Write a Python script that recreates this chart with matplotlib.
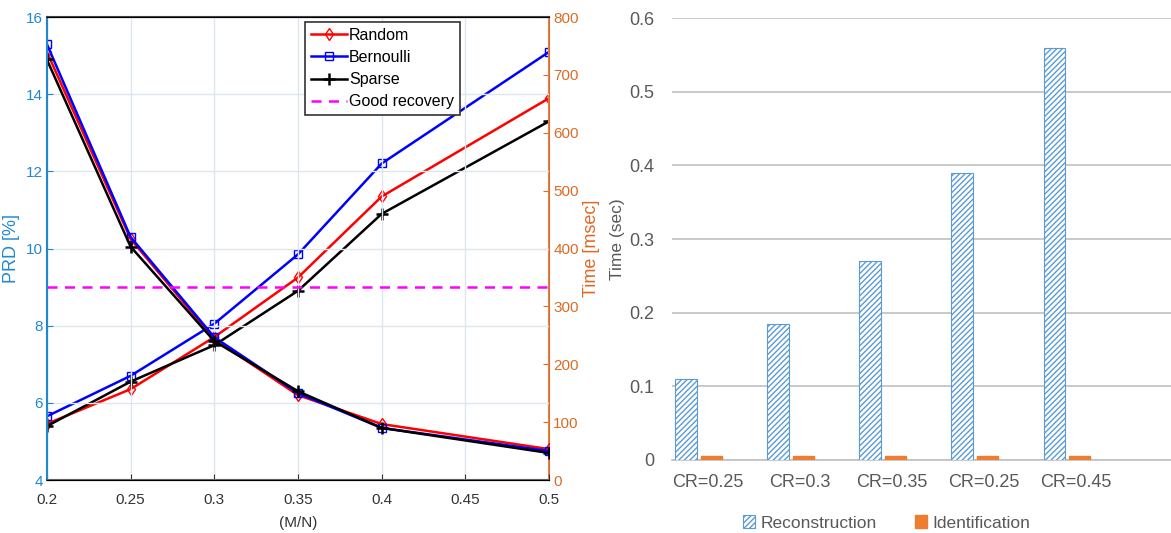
import numpy as np
import matplotlib
matplotlib.use("Agg")
from matplotlib import pyplot as plt

plt.rcParams['font.family'] = ['Liberation Sans', 'DejaVu Sans']

# left chart data
mn = [0.2, 0.25, 0.3, 0.35, 0.4, 0.45, 0.5]
mn_pts = [0.2, 0.25, 0.3, 0.35, 0.4, 0.5]

prd_random = [15.1, 10.25, 7.65, 6.2, 5.45, 4.8]
prd_bernoulli = [15.3, 10.3, 7.7, 6.25, 5.35, 4.75]
prd_sparse = [14.9, 10.05, 7.6, 6.3, 5.35, 4.7]

time_random = [97, 157, 247, 350, 490, 660]
time_bernoulli = [110, 180, 270, 390, 547, 740]
time_sparse = [93, 170, 233, 327, 460, 620]

good_recovery = 9

# right chart data
cr_labels = ['CR=0.25', 'CR=0.3', 'CR=0.35', 'CR=0.25', 'CR=0.45']
recon_time = [0.11, 0.185, 0.27, 0.39, 0.56]
ident_time = [0.005, 0.005, 0.005, 0.005, 0.005]

blue_ax = '#2188d0'
orange_ax = '#dd6a25'

fig = plt.figure(figsize=(11.71, 5.33), dpi=100)

#---------------- left chart ----------------
ax = fig.add_axes([0.040, 0.0994, 0.429, 0.8686])
ax2 = ax.twinx()

ax.plot(mn_pts, prd_random, color='red', marker='d', mfc='none', ms=6, lw=1.8, label='Random')
ax.plot(mn_pts, prd_bernoulli, color='blue', marker='s', mfc='none', ms=6, lw=1.8, label='Bernoulli')
ax.plot(mn_pts, prd_sparse, color='black', marker='+', ms=8, mew=1.8, lw=1.8, label='Sparse')
ax.axhline(good_recovery, color='magenta', ls=(0, (4, 3)), lw=1.8, label='Good recovery')

ax2.plot(mn_pts, time_random, color='red', marker='d', mfc='none', ms=6, lw=1.8)
ax2.plot(mn_pts, time_bernoulli, color='blue', marker='s', mfc='none', ms=6, lw=1.8)
ax2.plot(mn_pts, time_sparse, color='black', marker='+', ms=8, mew=1.8, lw=1.8)

ax.set_xlim(0.2, 0.5)
ax.set_ylim(4, 16)
ax2.set_ylim(0, 800)
ax.set_xticks(mn)
ax.set_xticklabels(['0.2', '0.25', '0.3', '0.35', '0.4', '0.45', '0.5'])
ax.set_yticks(range(4, 17, 2))
ax2.set_yticks(range(0, 801, 100))

ax.grid(True, color='#dde6ee', lw=1)
ax.tick_params(axis='y', colors=blue_ax, labelsize=11, direction='in', length=4, pad=3)
ax.tick_params(axis='x', colors='#333333', labelsize=11, direction='in', length=4, pad=9)
ax2.tick_params(axis='y', colors=orange_ax, labelsize=11, direction='in', length=4, pad=3)
ax.spines['left'].set_color(blue_ax)
ax2.spines['left'].set_color(blue_ax)
ax2.spines['right'].set_color(orange_ax)
ax.spines['right'].set_visible(False)
ax2.spines['top'].set_color('#444444')
ax2.spines['bottom'].set_color('#444444')
for s in ax2.spines.values():
    s.set_linewidth(1.5)

ax.set_ylabel('PRD [%]', color=blue_ax, fontsize=13, labelpad=4)
ax2.set_ylabel('Time [msec]', color=orange_ax, fontsize=13, labelpad=3)
ax.set_xlabel('(M/N)', color='#333333', fontsize=11, labelpad=7)

leg = ax.legend(loc='upper left', bbox_to_anchor=(0.498, 1.006), fontsize=11.5,
                fancybox=False, edgecolor='#333333', framealpha=1,
                handlelength=2.3, handletextpad=0.1, borderpad=0.35, labelspacing=0.45)
leg.get_frame().set_linewidth(1.2)
ax.set_zorder(ax2.get_zorder() + 1)
ax.patch.set_visible(False)

#---------------- right chart ----------------
bx = fig.add_axes([0.574, 0.137, 0.426, 0.829])
x = np.arange(len(cr_labels))
w = 0.23
bx.bar(x - 0.14, recon_time, w, color='white', edgecolor='#5b9bd5', hatch='//////',
       lw=0.8, label='Reconstruction', zorder=3)
bx.bar(x + 0.14, ident_time, w, color='#ed7d31', edgecolor='#ed7d31',
       label='Identification', zorder=3)

bx.set_xlim(-0.29, 5.13)
bx.set_ylim(0, 0.6)
bx.set_yticks(np.arange(0, 0.61, 0.1))
bx.set_yticklabels(['0', '0.1', '0.2', '0.3', '0.4', '0.5', '0.6'])
bx.set_xticks(x + 0.1)
bx.set_xticklabels(cr_labels)
bx.yaxis.grid(True, color='#c0c0c0', lw=1.2, zorder=0)
bx.set_axisbelow(True)
for s in ['top', 'right', 'left']:
    bx.spines[s].set_visible(False)
bx.spines['bottom'].set_color('#c0c0c0')
bx.spines['bottom'].set_linewidth(1.2)
bx.tick_params(axis='both', length=0, colors='#595959', labelsize=13)
bx.tick_params(axis='x', pad=10)
bx.tick_params(axis='y', pad=13)
bx.set_ylabel('Time (sec)', color='#595959', fontsize=12.5, labelpad=3)
bx.legend(loc='upper center', bbox_to_anchor=(0.43, -0.09), ncol=2, frameon=False,
          fontsize=12.5, labelcolor='#595959', handlelength=0.7, handleheight=0.7,
          handletextpad=0.3, columnspacing=2.2)

fig.savefig('out.png', dpi=100)
